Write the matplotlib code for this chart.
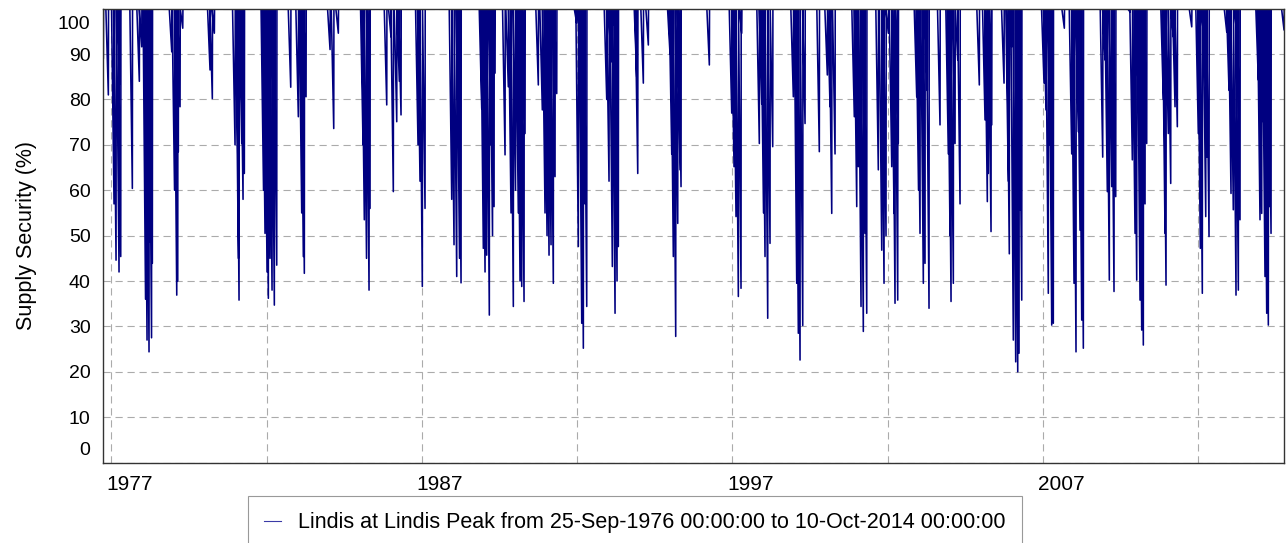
import matplotlib
matplotlib.use("Agg")
import matplotlib.pyplot as plt
from matplotlib.transforms import ScaledTranslation

plt.rcParams['font.family'] = ['Liberation Sans', 'DejaVu Sans']

# record span (decimal years): 25-Sep-1976 .. 10-Oct-2014
t_start = 1976.734
t_end = 2014.773

# dips: time of each low (decimal year) and the low (%)
dip_year = [
    1976.744, 1976.905, 1977.088, 1977.153, 1977.249, 1977.282, 1977.304, 1977.678,
    1977.903, 1977.980, 1978.103, 1978.151, 1978.215, 1978.248, 1978.296, 1978.322,
    1978.947, 1979.037, 1979.108, 1979.140, 1979.159, 1979.214, 1979.301,
    1980.180, 1980.254, 1980.319,
    1980.985, 1981.072, 1981.092, 1981.114, 1981.201, 1981.243, 1981.285,
    1981.903, 1981.951, 1982.016, 1982.058, 1982.112, 1982.177, 1982.241, 1982.251, 1982.273, 1982.328,
    1982.779, 1983.024, 1983.133, 1983.185, 1983.217, 1983.272,
    1984.045, 1984.164, 1984.312,
    1985.108, 1985.149, 1985.220, 1985.301, 1985.333,
    1985.871, 1986.009, 1986.083, 1986.193, 1986.277, 1986.331,
    1986.879, 1986.943, 1987.017, 1987.104,
    1987.964, 1988.038, 1988.125, 1988.177, 1988.215, 1988.264,
    1988.930, 1988.982, 1989.037, 1989.091, 1989.175, 1989.230, 1989.278, 1989.327, 1989.359,
    1989.681, 1989.787, 1989.874, 1989.948, 1990.019, 1990.109, 1990.164, 1990.219, 1990.293, 1990.325,
    1990.753, 1990.882, 1990.969, 1991.034, 1991.075, 1991.098, 1991.162, 1991.236, 1991.291, 1991.346,
    1991.990, 1992.042, 1992.119, 1992.151, 1992.203, 1992.257, 1992.312,
    1992.956, 1993.030, 1993.095, 1993.137, 1993.182, 1993.224, 1993.288, 1993.330,
    1993.922, 1993.955, 1994.135, 1994.296,
    1994.995, 1995.050, 1995.101, 1995.178, 1995.243, 1995.317, 1995.349,
    1996.261,
    1996.982, 1997.056, 1997.120, 1997.195, 1997.281, 1997.304,
    1997.871, 1997.948, 1998.006, 1998.054, 1998.141, 1998.215, 1998.302,
    1998.966, 1999.075, 1999.095, 1999.127, 1999.182, 1999.269, 1999.343,
    1999.803, 2000.061, 2000.148, 2000.203, 2000.309,
    2000.930, 2001.008, 2001.059, 2001.146, 2001.220, 2001.275, 2001.330,
    2001.703, 2001.813, 2001.887, 2001.951, 2002.025, 2002.135, 2002.209, 2002.241, 2002.328, 2002.347,
    2002.940, 2002.998, 2003.046, 2003.153, 2003.207, 2003.281, 2003.336,
    2003.690, 2003.958, 2004.013, 2004.045, 2004.119, 2004.174, 2004.261, 2004.335,
    2004.956, 2005.140, 2005.214, 2005.246, 2005.333, 2005.356,
    2005.752, 2005.890, 2005.922, 2006.000, 2006.051, 2006.128, 2006.193, 2006.235, 2006.267, 2006.299, 2006.322,
    2007.040, 2007.104, 2007.178, 2007.233, 2007.288, 2007.339,
    2007.694, 2007.932, 2008.006, 2008.070, 2008.145, 2008.199, 2008.254, 2008.306,
    2008.930, 2009.004, 2009.079, 2009.143, 2009.220, 2009.294, 2009.349,
    2009.810, 2009.884, 2009.971, 2010.025, 2010.077, 2010.132, 2010.186, 2010.238, 2010.293, 2010.347,
    2010.882, 2010.937, 2010.969, 2011.043, 2011.120, 2011.204, 2011.259, 2011.333,
    2011.797, 2012.009, 2012.074, 2012.138, 2012.183, 2012.248, 2012.289, 2012.354,
    2012.924, 2012.998, 2013.062, 2013.136, 2013.223, 2013.246, 2013.298, 2013.352,
    2013.942, 2013.996, 2014.051, 2014.103, 2014.157, 2014.212, 2014.264, 2014.309, 2014.351,
    2014.770,
]
dip_low = [
    89, 81, 57, 44.6, 42, 83.5, 45.4, 60.4,
    84, 91.6, 36, 27, 24.4, 48.7, 27.5, 43.9,
    90.5, 60, 36.9, 40, 68.5, 78.4, 95.7,
    86.5, 80.2, 94.6,
    70, 80.6, 45, 35.8, 70.3, 58, 63.7,
    60, 50.5, 42, 36.2, 45, 38, 84.7, 34.7, 70.3, 43.5,
    82.7, 76.2, 55, 45.4, 41.7, 80.6,
    91, 73.6, 94.6,
    70, 53.5, 45, 38, 56,
    78.8, 93.8, 59.7, 75.1, 84, 76.6,
    70, 62, 38.8, 56,
    58, 48, 41, 74, 45, 39.6,
    78, 47.2, 42, 45.7, 32.5, 70, 50, 56.4, 85.8,
    67.8, 82.8, 55, 34.4, 60, 55, 40, 38.8, 35.5, 72.5,
    83.2, 77.7, 55, 50, 93.8, 45.7, 48, 39.5, 63, 81.3,
    96.8, 47.6, 84.7, 30.7, 25.2, 57, 34.4,
    80, 62, 88.3, 43.2, 96.4, 32.9, 40, 47.6,
    85, 63.7, 83.6, 92,
    90, 68, 45.4, 27.8, 52.7, 64.5, 60.8,
    87.6,
    77, 65.2, 54.2, 36.6, 38.4, 94.6,
    70.3, 79, 55, 45.4, 31.8, 48.3, 69.6,
    80.6, 39.5, 65.2, 28.5, 22.6, 30.2, 74.7,
    68.5, 85.4, 78.4, 54.9, 68,
    76.2, 56.4, 65.2, 34.4, 28.9, 50.5, 32.9,
    64.5, 46.8, 39.5, 50, 94.6, 65.2, 54.9, 35.1, 35.8, 70.3,
    80.6, 60, 50.5, 39.5, 43.9, 82, 34,
    74.4, 68, 50, 35.5, 39.5, 70.3, 88.7, 57,
    83.2, 75.5, 57.5, 63.7, 50.9, 74.4,
    83.6, 62, 46, 91.6, 27, 22.2, 20, 24.1, 55.7, 73.6, 35.8,
    83.6, 77.7, 37.3, 70, 30.3, 30.7,
    95.7, 68, 39.5, 24.4, 72.9, 51.2, 31.4, 25.2,
    67.3, 88.7, 59.7, 40.2, 60.8, 37.7, 58.6,
    99.3, 66.7, 50.5, 40.2, 81, 35.8, 29.2, 25.9, 57, 70.3,
    80, 50.5, 39.1, 72.5, 61.5, 93.8, 78.4, 74,
    96, 72.5, 47.2, 37.3, 93.8, 54.2, 67.3, 49.8,
    94.9, 82, 59.3, 55.7, 36.9, 94.6, 38, 53.5,
    84.3, 53.5, 54.9, 75.1, 41, 32.9, 30.3, 56.4, 50.5,
    95.3,
]

# storage draws down over some weeks and refills almost at once
fall = 0.08
rise = 0.006

t = [t_start]
v = [100]
for yr, low in zip(dip_year, dip_low):
    t += [yr - fall, yr, yr + rise]
    v += [100, low, 100]
t.append(t_end)
v.append(100)

fig = plt.figure(figsize=(12.88, 5.43), dpi=100)
ax = fig.add_axes([0.080, 0.148, 0.917, 0.836])

line, = ax.plot(t, v, color='#000080', lw=1.15,
                label='Lindis at Lindis Peak from 25-Sep-1976 00:00:00 to 10-Oct-2014 00:00:00')

ax.set_xlim(t_start, t_end)
ax.set_ylim(0, 100)

grid_years = [1977, 1982, 1987, 1992, 1997, 2002, 2007, 2012]
ax.set_xticks(grid_years)
ax.set_xticklabels([str(y) if (y - 1977) % 10 == 0 else '' for y in grid_years])
ax.set_yticks(range(0, 101, 10))
ax.tick_params(length=0, pad=9)
ax.tick_params(axis='y', labelsize=14)
ax.tick_params(axis='x', labelsize=15)

ax.grid(True, color='#ababab', linestyle=(0, (6.5, 4.3)), linewidth=0.8)
ax.set_axisbelow(True)

for s in ax.spines.values():
    s.set_color('#333333')
    s.set_linewidth(1.0)

ax.set_ylabel('Supply Security (%)', fontsize=15.5, labelpad=15)

# tick labels sit left-aligned on their grid line, ends of y axis pulled inside
for lab in ax.get_xticklabels():
    lab.set_ha('left')
    lab.set_transform(lab.get_transform() + ScaledTranslation(-5 / 100, 0, fig.dpi_scale_trans))
ylabs = ax.get_yticklabels()
ylabs[0].set_transform(ylabs[0].get_transform() + ScaledTranslation(0, 14 / 100, fig.dpi_scale_trans))
ylabs[-1].set_transform(ylabs[-1].get_transform() + ScaledTranslation(0, -14 / 100, fig.dpi_scale_trans))

leg = fig.legend(handles=[line], loc='upper center', bbox_to_anchor=(635 / 1288, 1 - 496 / 543),
                 fontsize=15.5, frameon=True, fancybox=False, framealpha=1,
                 edgecolor='#999999', borderpad=0.75, borderaxespad=0,
                 handlelength=0.8, handletextpad=0.8)
leg.get_frame().set_linewidth(0.8)
leg_line = leg.get_lines()[0]
leg_line.set_linewidth(0.8)
leg_line.set_color('#3a3aa6')

fig.savefig('out.png', dpi=100)
